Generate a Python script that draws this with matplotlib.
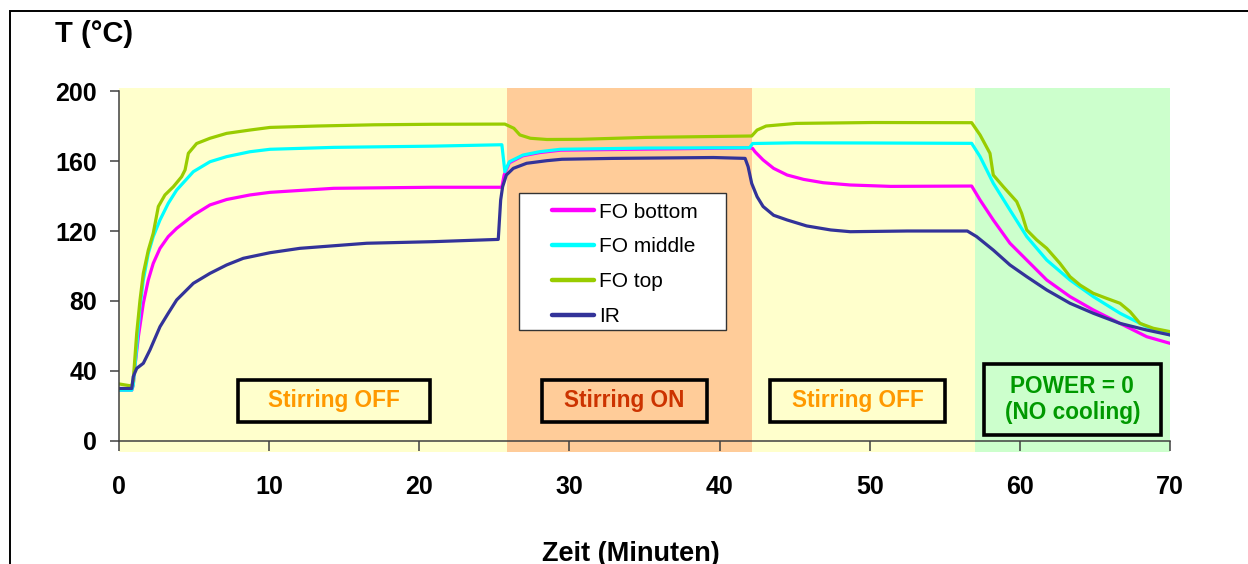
import matplotlib
matplotlib.use("Agg")
import matplotlib.pyplot as plt
from matplotlib.patches import Rectangle

plt.rcParams['font.family'] = ['Liberation Sans', 'DejaVu Sans']

# ---------------- data ----------------
t_bottom = [0, 0.85, 0.95, 1.06, 1.29, 1.62, 1.95, 2.28, 2.73, 3.28, 3.84, 4.95, 6.06, 7.17,
            8.72, 10.06, 14.3, 20.9, 25.5, 25.65, 26.0, 26.9, 28.0, 29.4, 35.1, 42.0, 42.2,
            42.36, 42.9, 43.6, 44.5, 45.6, 46.9, 48.7, 51.4, 56.79, 57.35, 58.23, 59.34,
            60.46, 61.79, 63.34, 64.89, 66.67, 68.45, 70]
T_bottom = [29, 29, 32, 42.5, 59.6, 78.7, 92, 101.5, 110.1, 116.8, 121.5, 129, 134.9, 138,
            140.6, 142.1, 144.4, 145, 145, 152, 159, 163, 164.8, 166.2, 166.8, 167.5, 167.2,
            165.3, 160.6, 155.8, 152, 149.5, 147.6, 146.3, 145.5, 145.7, 137.7, 126.3, 113,
            103.4, 92, 82.5, 74.9, 67.2, 59.6, 55.8]

t_middle = [0, 0.85, 0.95, 1.18, 1.4, 1.62, 1.95, 2.28, 2.73, 3.28, 3.84, 4.95, 6.06, 7.17,
            8.72, 10.06, 14.3, 20.9, 25.5, 25.7, 26.0, 26.9, 28.0, 29.4, 35.1, 42.0, 42.2,
            45, 50, 56.79, 57.35, 58.23, 59.34, 60.46, 61.79, 63.34, 64.89, 66.67, 68.45, 70]
T_middle = [29, 29, 32, 53.9, 76.8, 92, 107.2, 116.8, 126.3, 135.8, 143.4, 153.9, 159.6, 162.5,
            165.3, 166.7, 167.8, 168.5, 169.3, 153.9, 159.6, 163.4, 165.3, 166.7, 167.4, 167.6,
            170, 170.4, 170.3, 170.1, 162.5, 147.3, 132, 116.8, 103.4, 92, 82.5, 73, 65.3, 60.6]

t_top = [0, 0.85, 0.95, 1.18, 1.4, 1.62, 1.95, 2.28, 2.62, 3.06, 3.62, 4.17, 4.4, 4.62, 5.17,
         6.06, 7.17, 8.72, 10.06, 13.2, 17.0, 20.9, 25.7, 26.3, 26.7, 27.4, 28.5, 30.7, 35.1,
         42.14, 42.5, 43.1, 45.1, 50.2, 56.79, 57.35, 58.01, 58.23, 58.9, 59.79, 60.12, 60.46,
         61.12, 61.79, 62.67, 63.34, 64.01, 64.89, 65.78, 66.67, 67.34, 68.0, 68.89, 70]
T_top = [32.6, 31.4, 34.9, 61.6, 80.6, 95.8, 109, 118.7, 134, 140.6, 145.3, 151, 154.9, 164.4,
         170, 173, 175.8, 177.7, 179.2, 180, 180.7, 181, 181.1, 178.7, 174.9, 173, 172.3, 172.4,
         173.5, 174.3, 177.7, 180, 181.5, 182, 181.9, 174.9, 164.4, 152, 145.3, 136.8, 130.1,
         120.6, 114.9, 110.1, 101.5, 93.9, 89.1, 84.4, 81.5, 78.7, 73.9, 67.2, 64.4, 62.5]

t_ir = [0, 0.85, 0.95, 1.18, 1.62, 2.06, 2.73, 3.28, 3.84, 4.95, 6.06, 7.17, 8.28, 10.06, 12.05,
        16.5, 20.9, 25.26, 25.42, 25.55, 25.8, 26.26, 27.15, 28.5, 29.5, 32.9, 39.6, 41.7, 41.9,
        42.14, 42.5, 42.9, 43.6, 44.5, 45.8, 47.4, 48.7, 52.5, 56.5, 57.12, 58.23, 59.34, 60.46,
        61.79, 63.34, 64.89, 66.67, 68.45, 70]
T_ir = [30, 30, 36.8, 41.5, 44.4, 52, 65.3, 73, 80.6, 90.1, 95.8, 100.6, 104.4, 107.6, 110.1,
        113, 113.9, 115.2, 137.7, 145.3, 152, 155.8, 158.7, 160.2, 161, 161.5, 162, 161.5, 156.8,
        147.2, 139.6, 134, 129, 126.3, 122.9, 120.6, 119.6, 120, 120, 116.8, 109.1, 100.6, 93.9,
        86.3, 78.7, 73, 67.2, 63.4, 60.6]

series_labels = ["FO bottom", "FO middle", "FO top", "IR"]
series_colors = ["#FF00FF", "#00FFFF", "#99CC00", "#333399"]

phase_edges = [0, 25.83, 42.14, 57.01, 70]
phase_colors = ["#FFFFCC", "#FFCC99", "#FFFFCC", "#CCFFCC"]
phase_texts = ["Stirring OFF", "Stirring ON", "Stirring OFF", "POWER = 0\n(NO cooling)"]
phase_text_colors = ["#FF9900", "#CC3300", "#FF9900", "#009900"]

x_ticks = [0, 10, 20, 30, 40, 50, 60, 70]
y_ticks = [0, 40, 80, 120, 160, 200]

# ---------------- layout ----------------
W, H = 1248, 564
fig = plt.figure(figsize=(W / 100, H / 100), dpi=100)
ax_left, ax_right, ax_top, ax_bot = 119, 1170, 88.4, 452
ax = fig.add_axes([ax_left / W, 1 - ax_bot / H, (ax_right - ax_left) / W, (ax_bot - ax_top) / H])
ax.set_xlim(0, 70)
ax.set_ylim(-6.3, 201.5)
ax.patch.set_alpha(0)

for i in range(len(phase_colors)):
    ax.axvspan(phase_edges[i], phase_edges[i + 1], color=phase_colors[i], lw=0, zorder=0)

series = [(t_bottom, T_bottom), (t_middle, T_middle), (t_top, T_top), (t_ir, T_ir)]
for (tt, TT), lab, col in zip(series, series_labels, series_colors):
    ax.plot(tt, TT, color=col, lw=2.3, label=lab, zorder=3, solid_joinstyle='round')

# annotation boxes (layout, in data units: x0, x1, y0, y1)
box_geom = [(7.93, 20.71, 10.9, 34.9), (28.15, 39.19, 10.9, 34.9),
            (43.36, 55.02, 10.9, 34.9), (57.61, 69.38, 3.2, 44.0)]
for (x0, x1, y0, y1), txt, tc in zip(box_geom, phase_texts, phase_text_colors):
    ax.add_patch(Rectangle((x0, y0), x1 - x0, y1 - y0, fill=False, edgecolor='black',
                           lw=2.6, zorder=4))
    ax.text((x0 + x1) / 2, (y0 + y1) / 2, txt, ha='center', va='center', color=tc,
            fontsize=16.3, fontweight='bold', linespacing=1.2, zorder=5)

# spines & ticks
for s in ['top', 'right']:
    ax.spines[s].set_visible(False)
ax.spines['left'].set_bounds(0, 200)
ax.spines['bottom'].set_position(('data', 0))
for s in ['left', 'bottom']:
    ax.spines[s].set_color('#404040')
    ax.spines[s].set_linewidth(1.1)
    ax.spines[s].set_zorder(3.5)
ax.set_xticks(x_ticks)
ax.set_yticks(y_ticks)
ax.tick_params(axis='y', direction='out', length=6.5, width=1.1, color='#404040', pad=9.4,
               labelsize=18)
ax.tick_params(axis='x', direction='out', length=7.2, width=1.1, color='#404040', pad=17,
               labelsize=18)
for lbl in ax.get_xticklabels() + ax.get_yticklabels():
    lbl.set_fontweight('bold')

# legend with a manually drawn frame
lx0, lx1, ly0, ly1 = 519, 726, 192.7, 330
axw, axh = ax_right - ax_left, ax_bot - ax_top
ax.add_patch(Rectangle(((lx0 - ax_left) / axw, (ax_bot - ly1) / axh), (lx1 - lx0) / axw,
                       (ly1 - ly0) / axh, transform=ax.transAxes, facecolor='white',
                       edgecolor='#333333', lw=1.0, zorder=6))
leg = ax.legend(loc='upper left', bbox_to_anchor=((552 - ax_left) / axw, (ax_bot - 202.5) / axh),
                frameon=False, borderpad=0, borderaxespad=0, fontsize=15,
                handlelength=2.0, handletextpad=0.25, labelspacing=0.76)
leg.set_zorder(7)
for h in leg.get_lines():
    h.set_linewidth(3.2)
    h.set_solid_capstyle('round')

# axis titles
fig.text(55 / W, 1 - 42 / H, "T (°C)", fontsize=21, fontweight='bold', va='baseline', ha='left')
fig.text(631 / W, 1 - 541 / H, "Zeit (Minuten)", fontsize=19.5, fontweight='bold',
         va='top', ha='center')

# outer frame
fig.add_artist(Rectangle((9.5 / W, -1), 5, 1 + (1 - 11 / H), transform=fig.transFigure,
                         fill=False, edgecolor='black', lw=1.4, clip_on=False))

fig.savefig("out.png", dpi=100)
